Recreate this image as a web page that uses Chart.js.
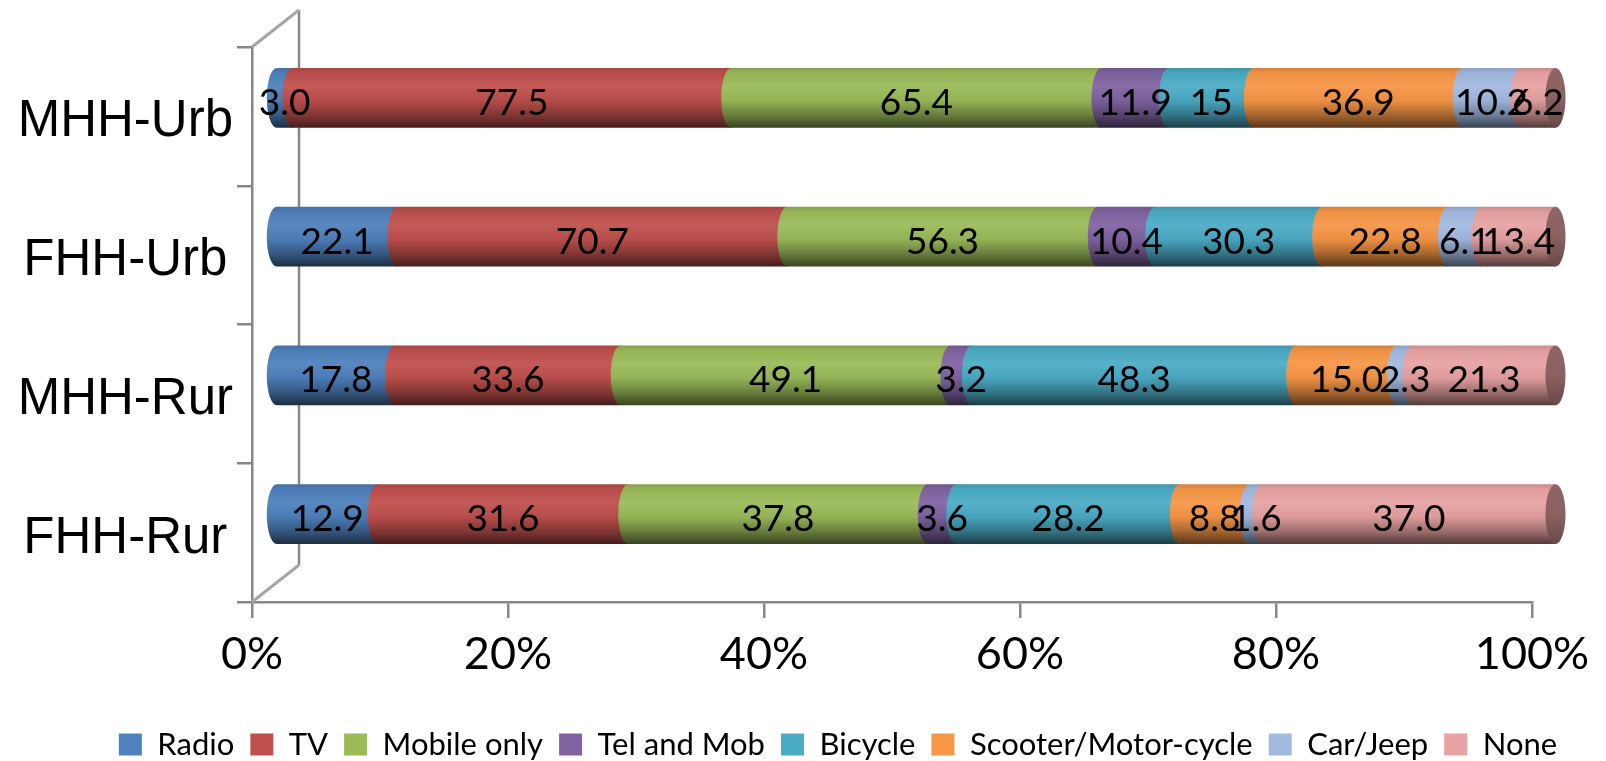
<!DOCTYPE html>
<html>
<head>
<meta charset="utf-8">
<title>Household assets by head of household</title>
<script src="https://cdn.jsdelivr.net/npm/chart.js@4.4.0/dist/chart.umd.min.js"></script>
<style>
  html, body { margin: 0; padding: 0; background: #fff; overflow: hidden; }
  #assetChart { display: block; }
</style>
</head>
<body>
<canvas id="assetChart" width="1606" height="770"></canvas>
<script>
// categories, top to bottom
const categories = ['MHH-Urb', 'FHH-Urb', 'MHH-Rur', 'FHH-Rur'];
const seriesNames = ['Radio', 'TV', 'Mobile only', 'Tel and Mob', 'Bicycle',
  'Scooter/Motor-cycle', 'Car/Jeep', 'None'];

// values kept as printed so the labels read the same
const radio     = ['3.0', '22.1', '17.8', '12.9'];
const tv        = ['77.5', '70.7', '33.6', '31.6'];
const mobile    = ['65.4', '56.3', '49.1', '37.8'];
const telMob    = ['11.9', '10.4', '3.2', '3.6'];
const bicycle   = ['15', '30.3', '48.3', '28.2'];
const scooter   = ['36.9', '22.8', '15.0', '8.8'];
const carJeep   = ['10.2', '6.1', '2.3', '1.6'];
const noneOwned = ['6.2', '13.4', '21.3', '37.0'];

const xTicks = [0, 20, 40, 60, 80, 100];

const seriesValues = [radio, tv, mobile, telMob, bicycle, scooter, carJeep, noneOwned];
const seriesColors = ['#4F81BD', '#C0504D', '#9BBB59', '#8064A2', '#4BACC6',
  '#F79646', '#A2BAE0', '#E8A2A2'];

// 3d box depth, bars sit halfway in
const depthX = 47, depthY = 37;
const capRx = 10;
const axisGrey = '#878787';
const latoFont = 'Lato, "Open Sans", sans-serif';
const plainFont = '"Liberation Sans", Arial, sans-serif';

// each row is shown as 100%
const rowTotals = categories.map((c, j) =>
  seriesValues.reduce((s, arr) => s + parseFloat(arr[j]), 0));

function shade(hex, f) {
  const n = parseInt(hex.slice(1), 16);
  let r = (n >> 16) & 255, g = (n >> 8) & 255, b = n & 255;
  if (f <= 1) { r *= f; g *= f; b *= f; }
  else { const t = f - 1; r += (255 - r) * t; g += (255 - g) * t; b += (255 - b) * t; }
  return 'rgb(' + Math.round(r) + ',' + Math.round(g) + ',' + Math.round(b) + ')';
}

const bodyStops = [[0, 0.86], [0.08, 0.96], [0.3, 1.06], [0.55, 0.95], [0.8, 0.66], [1, 0.36]];
const capStops = [[0, 0.62], [0.5, 0.6], [1, 0.45]];

function gradient(ctx, color, top, bot, stops) {
  const g = ctx.createLinearGradient(0, top, 0, bot);
  stops.forEach(([p, f]) => g.addColorStop(p, shade(color, f)));
  return g;
}

function drawSegment(ctx, el, color, last) {
  const x0 = el.base, x1 = el.x, ry = el.height / 2;
  const top = el.y - ry, bot = el.y + ry;
  ctx.beginPath();
  ctx.moveTo(x1, top);
  ctx.lineTo(x0, top);
  ctx.ellipse(x0, el.y, capRx, ry, 0, -Math.PI / 2, Math.PI / 2, true);
  ctx.lineTo(x1, bot);
  ctx.closePath();
  ctx.fillStyle = gradient(ctx, color, top, bot, bodyStops);
  ctx.fill();
  if (last) {
    ctx.beginPath();
    ctx.ellipse(x1, el.y, capRx, ry, 0, 0, Math.PI * 2);
    ctx.fillStyle = gradient(ctx, color, top, bot, capStops);
    ctx.fill();
  }
}

// back wall and the two slanted edges of the box
const boxFrame = {
  id: 'boxFrame',
  afterLayout(chart) {
    // legend row sits a little right of centre
    chart.legend.left += 70;
  },
  beforeDatasetsDraw(chart) {
    const {ctx, chartArea: a} = chart;
    ctx.save();
    ctx.strokeStyle = axisGrey;
    ctx.lineWidth = 2.5;
    ctx.beginPath();
    ctx.moveTo(a.left + depthX, a.top - depthY);
    ctx.lineTo(a.left + depthX, a.bottom - depthY);
    ctx.stroke();
    ctx.strokeStyle = '#a6a6a6';
    ctx.lineWidth = 3;
    ctx.beginPath();
    ctx.moveTo(a.left, a.top);
    ctx.lineTo(a.left + depthX, a.top - depthY);
    ctx.moveTo(a.left, a.bottom);
    ctx.lineTo(a.left + depthX, a.bottom - depthY);
    ctx.stroke();
    ctx.restore();
  }
};

// bars drawn as cylinders, values printed on them
const cylinderBars = {
  id: 'cylinderBars',
  beforeDatasetsDraw(chart) {
    const ctx = chart.ctx;
    const n = chart.data.datasets.length;
    ctx.save();
    ctx.translate(depthX / 2, -depthY / 2);
    categories.forEach((cat, j) => {
      for (let k = 0; k < n; k++) {
        drawSegment(ctx, chart.getDatasetMeta(k).data[j], seriesColors[k], k === n - 1);
      }
      ctx.fillStyle = '#000';
      ctx.font = '37px ' + latoFont;
      ctx.textAlign = 'center';
      ctx.textBaseline = 'middle';
      for (let k = 0; k < n; k++) {
        const el = chart.getDatasetMeta(k).data[j];
        ctx.fillText(seriesValues[k][j], (el.base + el.x) / 2, el.y + 5);
      }
    });
    ctx.restore();
    return false;
  }
};

new Chart(document.getElementById('assetChart'), {
  type: 'bar',
  data: {
    labels: categories,
    datasets: seriesNames.map((name, k) => ({
      label: name,
      data: seriesValues[k].map((v, j) => parseFloat(v) / rowTotals[j] * 100),
      backgroundColor: seriesColors[k],
      borderWidth: 0,
      barPercentage: 0.43,
      categoryPercentage: 1
    }))
  },
  options: {
    indexAxis: 'y',
    responsive: false,
    animation: false,
    devicePixelRatio: 1,
    layout: { padding: { top: 47, right: 0, left: 0, bottom: 0 } },
    scales: {
      x: {
        stacked: true,
        min: 0,
        max: 100,
        afterBuildTicks: scale => { scale.ticks = xTicks.map(v => ({ value: v })); },
        afterFit: scale => { scale.height = 111; },
        ticks: {
          callback: v => v + '%',
          color: '#000',
          padding: 9,
          font: { family: latoFont, size: 45 }
        },
        grid: { drawOnChartArea: false, tickLength: 16, color: axisGrey, lineWidth: 2.5 },
        border: { color: axisGrey, width: 2.5 }
      },
      y: {
        stacked: true,
        afterFit: scale => { scale.width = 252; },
        ticks: {
          color: '#000',
          crossAlign: 'center',
          padding: 4,
          labelOffset: 6,
          font: { family: plainFont, size: 51 }
        },
        grid: { offset: true, drawOnChartArea: false, tickLength: 15, color: axisGrey, lineWidth: 2.5 },
        border: { color: axisGrey, width: 2.5 }
      },
      // empty strip on the right that keeps the plot clear of the edge
      rightGap: {
        type: 'linear',
        position: 'right',
        afterFit: scale => { scale.width = 74; },
        ticks: { display: false },
        grid: { display: false },
        border: { display: false }
      }
    },
    plugins: {
      tooltip: { enabled: false },
      legend: {
        position: 'bottom',
        labels: {
          color: '#000',
          boxWidth: 23,
          boxHeight: 22,
          padding: 16,
          font: { family: latoFont, size: 31 }
        }
      }
    }
  },
  plugins: [boxFrame, cylinderBars]
});
</script>
</body>
</html>
